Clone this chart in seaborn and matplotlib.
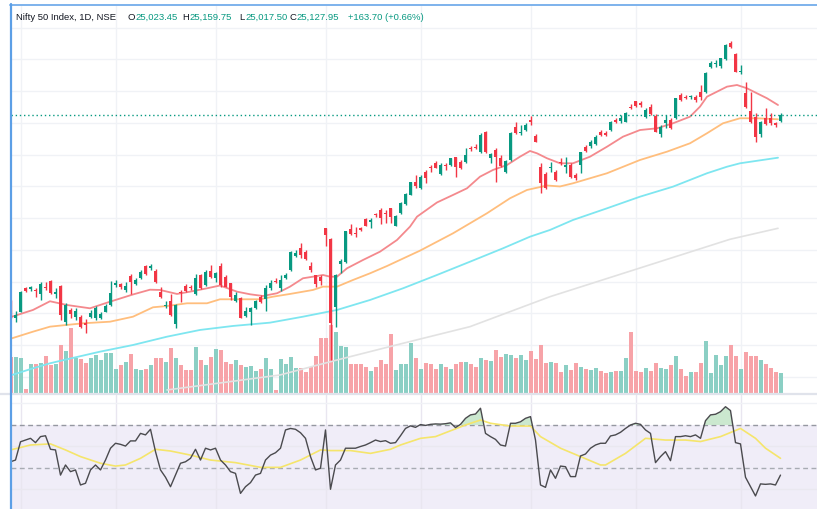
import numpy as np
import matplotlib
matplotlib.use("Agg")
import matplotlib.pyplot as plt
import seaborn as sns
from matplotlib import font_manager
from matplotlib.lines import Line2D
from matplotlib.transforms import blended_transform_factory

# ---------------- data (Nifty 50, daily) ----------------
opens = [22196, 21924, 22028, 22396, 22385, 22370, 22302, 22412, 22511, 22302,
         22433, 21870, 22055, 21949, 21949, 21845, 21949, 21924, 21924, 22028,
         22133, 22448, 22459, 22370, 22595, 22464, 22554, 22752, 22711, 22669,
         22333, 22117, 22201, 21829, 22333, 22437, 22422, 22307, 22606, 22448,
         22669, 22554, 22752, 22569, 22475, 22196, 22239, 21960, 22018, 22081,
         22264, 22228, 22396, 22511, 22396, 22554, 22685, 22910, 23026, 22973,
         22747, 22606, 22569, 23341, 23173, 22107, 22774, 22806, 23326, 23272,
         23341, 23483, 23445, 23562, 23630, 23578, 23656, 23377, 23578, 23719,
         23866, 24075, 23971, 24233, 24296, 24365, 24192, 24338, 24338, 24460,
         24390, 24381, 24601, 24626, 24538, 24863, 24444, 24574, 24444, 24223,
         24417, 24941, 24837, 24889, 25047, 24800, 24311, 24192, 24286, 24233,
         24390, 24311, 24338, 24181, 24338, 24626, 24637, 24669, 24863, 24847,
         24889, 25047, 25036, 25020, 25257, 25351, 25320, 25090, 25257, 25110,
         24826, 25005, 25047, 25074, 25441, 25414, 25405, 25414, 25493, 25493,
         25877, 25924, 25897, 26003, 26264, 26086, 25798, 25467, 25189, 25094,
         24826, 25074, 25074, 24995, 25023.45]
highs = [22212, 22039, 22354, 22412, 22437, 22406, 22500, 22500, 22527, 22396,
         22448, 22160, 22081, 22081, 21976, 21913, 22055, 22122, 22018, 22149,
         22511, 22527, 22475, 22500, 22617, 22554, 22685, 22763, 22774, 22700,
         22412, 22196, 22302, 22144, 22370, 22464, 22448, 22622, 22622, 22685,
         22763, 22658, 22790, 22606, 22475, 22343, 22264, 22106, 22106, 22212,
         22291, 22448, 22527, 22554, 22606, 22632, 22988, 23000, 23105, 23000,
         22815, 22606, 22606, 23341, 23188, 22622, 22858, 23299, 23409, 23367,
         23367, 23499, 23499, 23578, 23656, 23630, 23656, 23551, 23756, 23897,
         24070, 24181, 24181, 24260, 24338, 24401, 24365, 24365, 24453, 24460,
         24417, 24611, 24642, 24664, 24837, 24874, 24522, 24601, 24496, 24417,
         24863, 25011, 24968, 24995, 25115, 24822, 24370, 24228, 24390, 24260,
         24448, 24469, 24370, 24212, 24548, 24653, 24732, 24811, 24889, 24874,
         25031, 25074, 25126, 25173, 25299, 25351, 25346, 25231, 25299, 25142,
         24968, 25126, 25079, 25401, 25468, 25441, 25441, 25441, 25598, 25803,
         25976, 25992, 26031, 26244, 26291, 26097, 25913, 25645, 25488, 25157,
         25031, 25231, 25152, 25015, 25159.75]
lows = [21929, 21861, 22018, 22343, 22359, 22264, 22212, 22370, 22302, 22239,
        21897, 21818, 21933, 21897, 21776, 21697, 21924, 21897, 21913, 22018,
        22122, 22412, 22385, 22343, 22302, 22448, 22543, 22606, 22685, 22480,
        22243, 22091, 21965, 21766, 22185, 22338, 22370, 22291, 22380, 22433,
        22554, 22500, 22422, 22412, 22212, 22185, 21924, 21949, 21818, 22070,
        22160, 22043, 22370, 22475, 22359, 22538, 22674, 22894, 22869, 22842,
        22653, 22412, 22448, 23067, 21267, 21792, 22642, 22795, 23236, 23209,
        23304, 23377, 23341, 23524, 23409, 23430, 23420, 23377, 23567, 23708,
        23861, 23981, 23960, 24050, 24223, 24286, 24181, 24260, 24327, 24154,
        24275, 24365, 24559, 24586, 24522, 24522, 24365, 24075, 24311, 24207,
        24401, 24826, 24811, 24874, 24968, 24696, 23892, 23960, 24233, 24086,
        24338, 24217, 24133, 24102, 24217, 24543, 24606, 24653, 24795, 24795,
        24874, 25000, 25000, 25011, 25216, 25247, 25252, 25079, 25126, 24853,
        24784, 24916, 24905, 25063, 25346, 25373, 25383, 25331, 25362, 25472,
        25866, 25886, 25866, 25992, 26173, 25798, 25771, 25236, 24995, 24705,
        24779, 24968, 24968, 24937, 25017.50]
closes = [21944, 21976, 22333, 22359, 22412, 22354, 22459, 22396, 22318, 22343,
          21976, 22133, 21987, 22039, 21792, 21818, 22012, 22091, 21992, 22122,
          22318, 22475, 22422, 22433, 22491, 22527, 22658, 22622, 22752, 22500,
          22254, 22133, 21976, 22133, 22318, 22359, 22396, 22563, 22396, 22648,
          22579, 22632, 22448, 22422, 22264, 22291, 21933, 22039, 22091, 22201,
          22185, 22406, 22475, 22500, 22527, 22606, 22973, 22947, 22921, 22858,
          22685, 22464, 22516, 23236, 21855, 22606, 22826, 23299, 23247, 23247,
          23315, 23382, 23472, 23551, 23499, 23562, 23524, 23535, 23735, 23877,
          24066, 24012, 24154, 24129, 24286, 24296, 24338, 24322, 24444, 24311,
          24296, 24496, 24586, 24611, 24811, 24538, 24507, 24469, 24322, 24406,
          24847, 24837, 24863, 24968, 25020, 24705, 24050, 23971, 24296, 24102,
          24365, 24338, 24154, 24129, 24538, 24563, 24705, 24784, 24811, 24811,
          25020, 25020, 25074, 25162, 25241, 25268, 25283, 25205, 25142, 24863,
          24941, 25047, 24916, 25389, 25362, 25389, 25425, 25362, 25414, 25792,
          25950, 25950, 26019, 26228, 26192, 25808, 25808, 25247, 25015, 24784,
          25015, 24984, 25005, 24963, 25127.95]
volumes = [360, 360, 347, 37, 293, 293, 303, 370, 277, 293,
           480, 420, 647, 347, 337, 303, 347, 377, 327, 397,
           397, 243, 280, 307, 387, 243, 227, 243, 277, 347,
           347, 313, 450, 347, 277, 230, 230, 460, 327, 280,
           360, 437, 430, 313, 293, 327, 280, 263, 270, 220,
           243, 353, 237, 27, 337, 287, 360, 247, 247, 213,
           263, 370, 553, 553, 680, 613, 470, 463, 293, 293,
           293, 263, 220, 263, 327, 287, 593, 230, 293, 287,
           503, 347, 243, 303, 287, 243, 293, 260, 243, 287,
           310, 313, 293, 260, 347, 330, 317, 430, 360, 387,
           380, 347, 377, 327, 420, 337, 477, 303, 313, 303,
           213, 277, 230, 297, 263, 243, 230, 253, 220, 203,
           213, 220, 220, 347, 613, 220, 210, 253, 220, 303,
           253, 240, 277, 367, 243, 170, 210, 210, 303, 520,
           203, 380, 277, 367, 480, 367, 243, 410, 367, 367,
           327, 287, 250, 210, 200]
rsi = [52.9, 53.7, 62.2, 63.0, 63.8, 61.8, 64.6, 65.0, 58.7, 58.4,
       46.7, 51.4, 48.3, 49.1, 42.1, 42.9, 49.1, 51.4, 49.1, 53.7,
       59.2, 61.5, 61.0, 60.2, 62.6, 62.6, 66.1, 65.4, 68.0, 57.6,
       49.1, 45.7, 41.3, 46.7, 52.2, 52.9, 54.5, 58.7, 53.7, 59.2,
       58.4, 59.2, 53.7, 51.4, 48.3, 47.5, 38.2, 41.3, 43.2, 46.7,
       47.5, 53.7, 56.0, 57.1, 59.2, 67.7, 68.4, 68.0, 66.4, 63.8,
       55.3, 49.1, 49.9, 67.7, 40.1, 51.4, 53.7, 59.2, 59.2, 59.2,
       60.0, 60.7, 61.8, 63.0, 62.3, 62.7, 61.5, 61.8, 65.0, 68.4,
       69.6, 68.9, 70.2, 69.8, 70.3, 70.5, 70.4, 70.6, 71.0, 68.8,
       70.3, 73.1, 74.7, 75.1, 77.8, 66.1, 64.6, 63.3, 60.7, 60.2,
       70.8, 70.8, 71.5, 73.1, 73.9, 63.0, 42.1, 41.0, 49.1, 45.2,
       50.9, 50.6, 46.0, 46.0, 55.6, 56.5, 59.2, 60.7, 61.5, 61.5,
       64.9, 65.4, 66.6, 68.4, 70.0, 70.8, 70.3, 67.7, 66.1, 52.5,
       55.3, 57.6, 53.4, 64.6, 64.6, 65.0, 64.6, 65.4, 63.8, 72.0,
       74.7, 75.0, 76.2, 78.5, 76.7, 61.8, 61.2, 45.7, 41.3, 37.0,
       42.6, 42.4, 42.6, 42.1, 46.7]

# moving averages (bar index, value)
ma_fast_idx = [0.3, 4.5, 7.9, 11.3, 15.9, 19.9, 24.5, 27.9, 29.9, 33.3, 35.9, 39.3, 41.9, 45.3,
               47.9, 50.5, 53.3, 55.9, 58.5, 60.5, 62.5, 63.9, 65.3, 67.3, 70.5, 73.9, 77.3, 79.9,
               81.3, 85.3, 88.5, 91.3, 93.9, 96.5, 99.3, 101.9, 103.9, 105.3, 107.3, 109.9, 112.5,
               115.9, 119.3, 122.5, 125.9, 129.3, 132.5, 135.9, 137.9, 139.3, 141.3, 143.3, 145.3,
               147.3, 149.3, 151.3, 153.5]
ma_fast_val = [21949, 22055, 22192, 22133, 22081, 22185, 22299, 22374, 22370, 22307, 22343, 22396,
               22440, 22343, 22302, 22275, 22318, 22422, 22554, 22579, 22606, 22579, 22579, 22711,
               22842, 22973, 23157, 23367, 23524, 23748, 23866, 23971, 24154, 24260, 24338, 24469,
               24559, 24522, 24444, 24365, 24365, 24469, 24626, 24784, 24889, 24916, 24995, 25099,
               25257, 25414, 25493, 25572, 25598, 25546, 25467, 25389, 25283]
ma_mid_idx = [0.3, 4.5, 7.9, 14.5, 19.9, 24.5, 28.5, 31.3, 35.3, 39.3, 41.9, 45.9, 49.9, 52.5,
              55.9, 60.5, 62.5, 65.3, 68.5, 71.9, 75.3, 79.3, 81.9, 88.5, 95.3, 99.9, 103.3, 107.3,
              109.9, 112.5, 119.3, 125.9, 131.3, 135.9, 139.3, 142.5, 145.9, 149.3, 153.5]
ma_mid_val = [21609, 21713, 21792, 21845, 21870, 21949, 22097, 22117, 22160, 22160, 22223, 22223,
              22223, 22264, 22307, 22370, 22422, 22422, 22527, 22632, 22747, 22894, 22989, 23262,
              23578, 23814, 23945, 24015, 24000, 24050, 24208, 24417, 24548, 24680, 24838, 24995,
              25074, 25074, 25058]
ma_slow_idx = [0.3, 4.5, 7.9, 11.3, 17.9, 24.5, 31.3, 37.9, 44.5, 51.9, 58.5, 65.3, 71.9, 78.5,
               85.3, 91.9, 98.5, 103.9, 107.9, 112.5, 119.3, 125.9, 132.5, 139.3, 143.3, 145.9, 153.5]
ma_slow_val = [21031, 21136, 21215, 21278, 21398, 21503, 21634, 21740, 21803, 21855, 21949, 22055,
               22212, 22396, 22606, 22815, 23026, 23209, 23315, 23472, 23656, 23839, 23997, 24208,
               24311, 24365, 24453]
ma_long_idx = [31.3, 41.9, 53.9, 65.3, 78.5, 91.9, 107.9, 125.9, 143.9, 153.5]
ma_long_val = [20795, 20905, 21031, 21267, 21530, 21792, 22264, 22716, 23168, 23341]

rsi_ma_idx = [0, 4, 8, 11, 14, 18, 21, 23, 26, 29, 32, 36, 40, 45, 50, 54, 58, 62, 64, 68, 72, 76,
              78, 82, 85, 91, 94, 96, 100, 104, 106, 110, 114, 118, 119, 123, 127, 131, 135, 138,
              142, 146, 149, 151, 154]
rsi_ma_val = [58.4, 60.7, 61.2, 58.4, 55.3, 52.2, 50.9, 51.4, 54.5, 58.7, 57.9, 56.0, 53.7, 52.5,
              50.3, 50.3, 53.7, 58.4, 58.1, 58.1, 56.8, 58.7, 60.7, 63.8, 64.6, 70.0, 72.3, 70.8,
              69.5, 69.5, 64.6, 59.2, 55.3, 51.4, 51.4, 56.8, 63.8, 63.0, 63.0, 62.3, 64.6, 68.4,
              63.8, 59.2, 54.5]

month_starts = [2, 21, 41, 63, 82, 104, 125, 146]
price_grid = list(range(21000, 27000, 500))

# ---------------- style ----------------
sns.set_theme(style="white")
avail = {f.name for f in font_manager.fontManager.ttflist}
if 'Liberation Sans Narrow' in avail:
    tfont, tsize = 'Liberation Sans Narrow', 7.6
elif 'Liberation Sans' in avail:
    tfont, tsize = 'Liberation Sans', 6.8
else:
    tfont, tsize = 'DejaVu Sans', 6.0
plt.rcParams['font.family'] = [tfont, 'DejaVu Sans']

UP, DOWN = '#089981', '#F23645'
UP_V, DOWN_V = '#8BCFC4', '#F7A3A8'
GRID = '#F0F2F6'

W, H = 817, 509
fig = plt.figure(figsize=(W / 100, H / 100), dpi=100)
fig.patch.set_facecolor('white')


def rect(x0, y0, x1, y1):
    return [x0 / W, 1 - y1 / H, (x1 - x0) / W, (y1 - y0) / H]


ax_vol = fig.add_axes(rect(10.5, 5, 817, 393))
ax = fig.add_axes(rect(10.5, 5, 817, 393), facecolor='none')
ax_rsi = fig.add_axes(rect(10.5, 395, 817, 509))

n = len(opens)
idx = np.arange(n)
o = np.array(opens, float)
c = np.array(closes, float)
h = np.array(highs, float)
l = np.array(lows, float)
up = c >= o

XL = (0, (817 - 10.5) / 5)
for a in (ax_vol, ax, ax_rsi):
    a.set_xlim(*XL)
    a.set_xticks([])
    a.set_yticks([])
    for s in a.spines.values():
        s.set_visible(False)

ax.set_ylim(20747, 26858)
ax_vol.set_ylim(0, 3880)
ax_rsi.set_ylim(30.93, 83.95)

# grid (behind volume)
tr = blended_transform_factory(ax_vol.transAxes, ax.transData)
for p in price_grid:
    ax_vol.add_line(Line2D([0, 1], [p, p], transform=tr, color=GRID, lw=1, zorder=0))
for m in month_starts:
    ax_vol.axvline(m, color=GRID, lw=1, zorder=0)
    ax_rsi.axvline(m, color='#E9E6F0', lw=1, zorder=1)

# volume
ax_vol.bar(idx, volumes, width=0.8, color=np.where(up, UP_V, DOWN_V), zorder=2, linewidth=0)

# moving averages
sns.lineplot(x=ma_long_idx, y=ma_long_val, ax=ax, color='#E2E2E2', linewidth=1.2, estimator=None, sort=False)
sns.lineplot(x=ma_slow_idx, y=ma_slow_val, ax=ax, color='#7EE6F0', linewidth=1.3, estimator=None, sort=False)
sns.lineplot(x=ma_mid_idx, y=ma_mid_val, ax=ax, color='#FFBE7D', linewidth=1.3, estimator=None, sort=False)
sns.lineplot(x=ma_fast_idx, y=ma_fast_val, ax=ax, color='#F4898D', linewidth=1.3, estimator=None, sort=False)

# candles
ccol = np.where(up, UP, DOWN)
ax.vlines(idx, l, h, colors=ccol, lw=1, zorder=4)
body_lo = np.minimum(o, c)
body_h = np.maximum(np.abs(c - o), 14)
ax.bar(idx, body_h, bottom=body_lo, width=0.76, color=ccol, zorder=5, linewidth=0)

# last price dotted line
ax.axhline(closes[-1], color=UP, lw=1, ls=(0, (1, 2)), zorder=3)
ax.set_xlim(*XL)
ax.set_ylim(20747, 26858)
ax_vol.set_xlim(*XL)
ax_vol.set_ylim(0, 3880)

# RSI pane
ax_rsi.axhspan(30, 70, color='#F0EDF8', zorder=0, lw=0)
for g in (40, 60, 80):
    ax_rsi.axhline(g, color='#EAE8F0' if g < 70 else GRID, lw=1, zorder=1)
ax_rsi.axhline(70, color='#9598A1', lw=1, ls=(0, (3.5, 2.5)), zorder=2)
ax_rsi.axhline(50, color='#A8ABB3', lw=1, ls=(0, (3.5, 2.5)), zorder=2)
r = np.array(rsi)
ax_rsi.fill_between(idx, r, 70, where=r > 70, interpolate=True, color='#BFE3C4', alpha=0.8, lw=0, zorder=2)
sns.lineplot(x=rsi_ma_idx, y=rsi_ma_val, ax=ax_rsi, color='#F5E56B', linewidth=1.2, estimator=None, sort=False)
sns.lineplot(x=idx, y=rsi, ax=ax_rsi, color='#4A4A4E', linewidth=1.0, estimator=None, sort=False)
ax_rsi.set_xlim(*XL)
ax_rsi.set_ylim(30.93, 83.95)
for a in (ax_vol, ax, ax_rsi):
    a.set_xlabel('')
    a.set_ylabel('')
    a.set_xticks([])
    a.set_yticks([])

# frame lines
fig.add_artist(Line2D([0, 817 / W], [1 - 394 / H, 1 - 394 / H], transform=fig.transFigure,
                      color='#E0E3EB', lw=1.6))
fig.add_artist(Line2D([10 / W, 1], [1 - 4.5 / H, 1 - 4.5 / H], transform=fig.transFigure,
                      color='#7DB2EC', lw=1.4))
fig.add_artist(Line2D([10.5 / W, 10.5 / W], [0, 1 - 4 / H], transform=fig.transFigure,
                      color='#5C9FE6', lw=1.6))

# header text
ty = 1 - 17.5 / H
DARK = '#131722'
parts = [(16, 'Nifty 50 Index, 1D, NSE', DARK),
         (127.5, 'O', DARK), (135, '25,023.45', UP),
         (182.5, 'H', DARK), (189.5, '25,159.75', UP),
         (239, 'L', DARK), (245, '25,017.50', UP),
         (290, 'C', DARK), (296.5, '25,127.95', UP),
         (348.5, '+163.70 (+0.66%)', UP)]
for x, s, col in parts:
    fig.text(x / W, ty, s, color=col, fontsize=tsize, ha='left', va='center', family=[tfont, 'DejaVu Sans'])

fig.savefig('out.png', dpi=100, facecolor='white')
